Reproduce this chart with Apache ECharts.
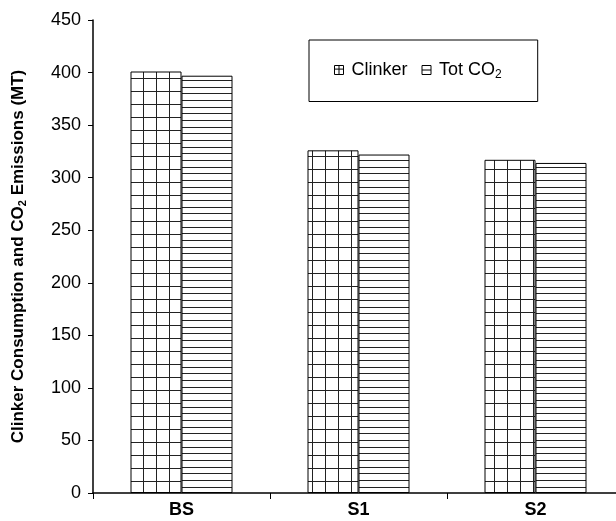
<!DOCTYPE html>
<html>
<head>
<meta charset="utf-8">
<script src="https://cdn.jsdelivr.net/npm/echarts@6/dist/echarts.min.js"></script>
<style>
  html, body { margin: 0; padding: 0; background: #fff; }
  #chart { width: 616px; height: 521px; }
</style>
</head>
<body>
<div id="chart"></div>
<script>
// Scenario categories and emissions (million tonnes)
const categories = ['BS', 'S1', 'S2'];
const clinker = [401, 326, 317];
const totCO2 = [397, 322, 314];
const yMin = 0, yMax = 450, yStep = 50;

// Hatch fill: square grid for clinker
function gridHatch() {
  const c = document.createElement('canvas');
  c.width = 13; c.height = 13;
  const g = c.getContext('2d');
  g.fillStyle = '#fff'; g.fillRect(0, 0, 13, 13);
  g.strokeStyle = '#222'; g.lineWidth = 1;
  g.beginPath();
  g.moveTo(0.5, 0); g.lineTo(0.5, 13);
  g.moveTo(0, 0.5); g.lineTo(13, 0.5);
  g.stroke();
  return c;
}
// Hatch fill: horizontal lines for total CO2
function lineHatch() {
  const c = document.createElement('canvas');
  c.width = 8; c.height = 20;
  const g = c.getContext('2d');
  g.fillStyle = '#fff'; g.fillRect(0, 0, 8, 20);
  g.strokeStyle = '#222'; g.lineWidth = 1;
  g.beginPath();
  [0.5, 7.5, 13.5].forEach(y => { g.moveTo(0, y); g.lineTo(8, y); });
  g.stroke();
  return c;
}

const font = '"Liberation Sans", Arial, sans-serif';
const chart = echarts.init(document.getElementById('chart'), null, { renderer: 'canvas' });

chart.setOption({
  backgroundColor: '#fff',
  animation: false,
  // the plot area runs a little past the right edge of the page
  grid: { left: 93, top: 20, width: 531, height: 473, containLabel: false, outerBoundsMode: 'none' },
  legend: {
    left: 309, top: 40,
    padding: [21, 36, 21, 25],
    borderColor: '#000', borderWidth: 1,
    itemWidth: 9, itemHeight: 9, itemGap: 14,
    textStyle: {
      fontFamily: font, fontSize: 18, color: '#000',
      padding: [0, 0, 0, 3],
      rich: { sub: { fontFamily: font, fontSize: 12, color: '#000', padding: [9, 0, 0, 0] } }
    },
    formatter: n => n === 'Tot CO2' ? 'Tot CO{sub|2}' : n,
    data: [
      { name: 'Clinker', icon: 'path://M0,0L10,0L10,10L0,10Z M5,0L5,10 M0,4L10,4',
        itemStyle: { color: '#fff', borderColor: '#000', borderWidth: 1 } },
      { name: 'Tot CO2', icon: 'path://M0,0L10,0L10,10L0,10Z M0,5L10,5',
        itemStyle: { color: '#fff', borderColor: '#000', borderWidth: 1 } }
    ]
  },
  xAxis: {
    type: 'category',
    data: categories,
    axisLine: { lineStyle: { color: '#000', width: 1.5 } },
    axisTick: { show: true, inside: false, length: 6, lineStyle: { color: '#000', width: 1 } },
    axisLabel: { fontFamily: font, fontSize: 18, fontWeight: 'bold', color: '#000', margin: 8 },
    splitLine: { show: false }
  },
  yAxis: {
    type: 'value',
    min: yMin, max: yMax, interval: yStep,
    name: 'Clinker Consumption and CO{sub|2} Emissions (MT)',
    nameLocation: 'middle',
    nameGap: 65,
    nameTextStyle: {
      fontFamily: font, fontSize: 17, fontWeight: 'bold', color: '#000',
      rich: { sub: { fontFamily: font, fontSize: 11, fontWeight: 'bold', color: '#000', padding: [9, 0, 0, 0] } }
    },
    axisLine: { show: true, lineStyle: { color: '#000', width: 1.5 } },
    axisTick: { show: true, inside: false, length: 5, lineStyle: { color: '#000', width: 1 } },
    axisLabel: { fontFamily: font, fontSize: 18, color: '#000', margin: 12 },
    splitLine: { show: false }
  },
  series: [
    {
      name: 'Clinker', type: 'bar', data: clinker,
      barWidth: 51, barGap: '0%',
      itemStyle: { color: { image: gridHatch(), repeat: 'repeat' }, borderColor: '#000', borderWidth: 1 }
    },
    {
      name: 'Tot CO2', type: 'bar', data: totCO2,
      barWidth: 51, barGap: '0%',
      itemStyle: { color: { image: lineHatch(), repeat: 'repeat' }, borderColor: '#000', borderWidth: 1 }
    }
  ]
});
</script>
</body>
</html>
